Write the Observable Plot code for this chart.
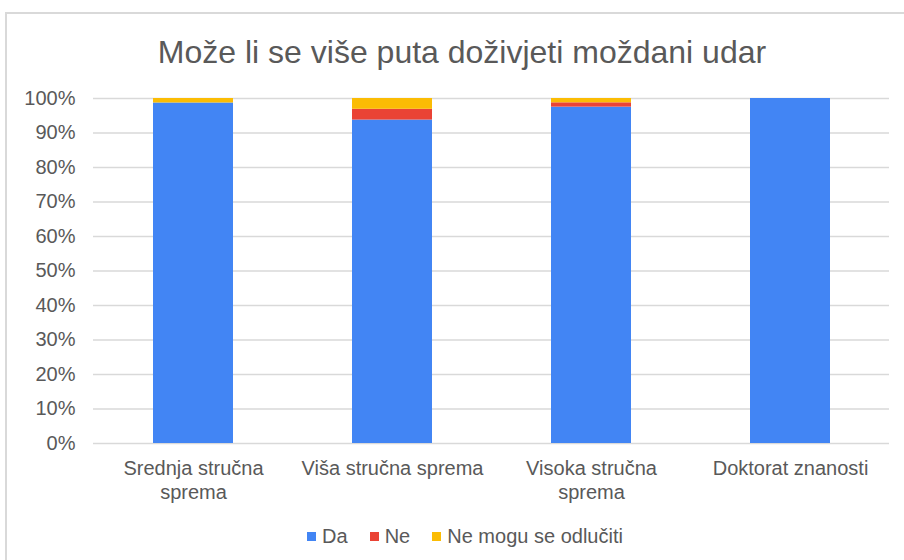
<!DOCTYPE html>
<html>
<head>
<meta charset="utf-8">
<script src="https://cdn.jsdelivr.net/npm/d3@7"></script>
<script src="https://cdn.jsdelivr.net/npm/@observablehq/plot@0.6"></script>
<style>
  html, body { margin: 0; padding: 0; background: #fff; }
  body { width: 904px; height: 560px; overflow: hidden; position: relative; font-family: "Liberation Sans", Arial, sans-serif; color: #595959; }
  #frame { position: absolute; left: 5px; top: 12px; width: 1000px; height: 700px; border-top: 2px solid #d9d9d9; border-left: 2px solid #d9d9d9; box-sizing: border-box; }
  #title { position: absolute; left: 20px; width: 884px; top: 36px; line-height: 32px; font-size: 32px; text-align: center; white-space: nowrap; }
  #chart { position: absolute; left: 0; top: 80px; }
  #legend { position: absolute; left: 0; width: 930px; top: 524px; display: flex; justify-content: center; font-size: 20px; line-height: 24px; }
  .item { display: flex; align-items: center; margin: 0 11px; }
  .sw { width: 9px; height: 9px; margin-right: 6px; }
</style>
</head>
<body>
<div id="frame"></div>
<div id="title">Može li se više puta doživjeti moždani udar</div>
<div id="chart"></div>
<div id="legend"></div>
<script>
const categories = ["Srednja stručna sprema", "Viša stručna sprema", "Visoka stručna sprema", "Doktorat znanosti"];
const tickLabels = ["Srednja stručna\nsprema", "Viša stručna sprema", "Visoka stručna\nsprema", "Doktorat znanosti"];
const series = ["Da", "Ne", "Ne mogu se odlučiti"];
const colors = ["#4285F4", "#EA4335", "#FBBC04"];
const da = [98.7, 93.75, 97.5, 100];
const ne = [0, 3.125, 1.25, 0];
const neMogu = [1.3, 3.125, 1.25, 0];
const yTicks = [0, 10, 20, 30, 40, 50, 60, 70, 80, 90, 100];

const values = [da, ne, neMogu];
const rows = [];
categories.forEach((c, i) => {
  series.forEach((s, j) => rows.push({category: c, series: s, value: values[j][i]}));
});

const chart = Plot.plot({
  width: 904,
  height: 433,
  marginTop: 18,
  marginBottom: 70,
  marginLeft: 93,
  marginRight: 15,
  style: {fontFamily: "Liberation Sans, Arial, sans-serif", fontSize: "20px", color: "#595959", background: "transparent"},
  x: {domain: categories, paddingInner: 0.6, paddingOuter: 0.3, label: null},
  y: {domain: [0, 100], label: null},
  color: {domain: series, range: colors},
  marks: [
    Plot.gridY(yTicks, {stroke: "#d9d9d9", strokeOpacity: 1, strokeWidth: 1.3}),
    Plot.barY(rows, {x: "category", y: "value", fill: "series"}),
    Plot.axisY(yTicks, {tickSize: 0, tickPadding: 18, tickFormat: d => d + "%", fill: "#595959", fontSize: 20}),
    Plot.axisX({tickSize: 0, tickPadding: 14, tickFormat: d => tickLabels[categories.indexOf(d)], lineHeight: 1.2, fill: "#595959", fontSize: 20})
  ]
});
document.getElementById("chart").appendChild(chart);

const legend = document.getElementById("legend");
series.forEach((s, j) => {
  const item = document.createElement("div");
  item.className = "item";
  const sw = document.createElement("span");
  sw.className = "sw";
  sw.style.background = colors[j];
  const t = document.createElement("span");
  t.textContent = s;
  item.appendChild(sw);
  item.appendChild(t);
  legend.appendChild(item);
});
</script>
</body>
</html>
